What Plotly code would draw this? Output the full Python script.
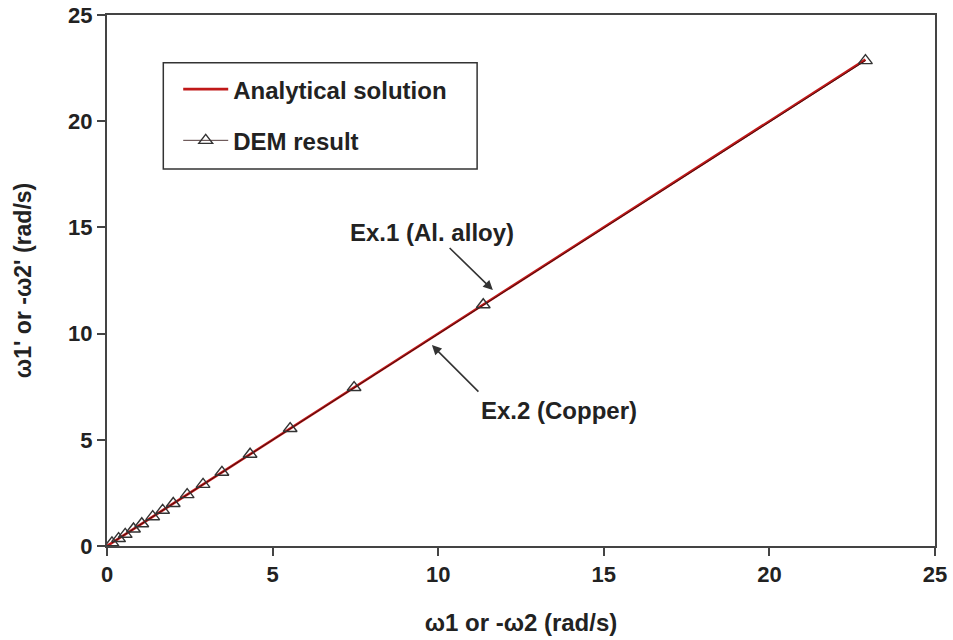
import plotly.graph_objects as go

# Data
analytical_x = [0.0, 22.9]
analytical_y = [0.0, 22.9]
dem_x = [0.15, 0.35, 0.55, 0.8, 1.05, 1.38, 1.68, 2.0, 2.42, 2.9, 3.47, 4.32, 5.53, 7.46, 11.36, 22.9]
dem_y = [0.15, 0.35, 0.55, 0.8, 1.05, 1.38, 1.68, 2.0, 2.42, 2.9, 3.47, 4.32, 5.53, 7.46, 11.36, 22.85]
tick_vals = [0, 5, 10, 15, 20, 25]

FONT = "Arial, 'Liberation Sans', sans-serif"
AXC = "#444444"

fig = go.Figure()
fig.add_trace(go.Scatter(
    x=analytical_x, y=analytical_y, mode="lines", name="<b>Analytical solution</b>",
    line=dict(color="#c01818", width=2.6), legendgroup="a"))
fig.add_trace(go.Scatter(
    x=dem_x, y=dem_y, mode="lines+markers", name="<b>DEM result</b>",
    line=dict(color="rgba(40,10,10,0.8)", width=1.0),
    marker=dict(symbol="triangle-up-open", size=12, color="#333333", line=dict(width=1.4)),
    legendgroup="b"))

# Annotations: arrows
fig.add_annotation(x=11.65, y=12.05, ax=10.3, ay=14.1, xref="x", yref="y", axref="x", ayref="y",
                   text="", showarrow=True, arrowhead=2, arrowsize=1.2, arrowwidth=1.6, arrowcolor="#333333")
fig.add_annotation(x=9.81, y=9.46, ax=11.26, ay=7.2, xref="x", yref="y", axref="x", ayref="y",
                   text="", showarrow=True, arrowhead=2, arrowsize=1.2, arrowwidth=1.6, arrowcolor="#333333")
fig.add_annotation(x=9.81, y=14.78, xref="x", yref="y", text="<b>Ex.1 (Al. alloy)</b>", showarrow=False,
                   font=dict(family=FONT, size=24, color="#222222"), xanchor="center", yanchor="middle")
fig.add_annotation(x=13.65, y=6.4, xref="x", yref="y", text="<b>Ex.2 (Copper)</b>", showarrow=False,
                   font=dict(family=FONT, size=24, color="#222222"), xanchor="center", yanchor="middle")

# Legend box
fig.add_shape(type="rect", xref="paper", yref="paper", x0=0.068, x1=0.447, y0=0.71, y1=0.91,
              line=dict(color="#333333", width=1.5), fillcolor="rgba(0,0,0,0)")

fig.update_layout(
    width=953, height=640,
    margin=dict(l=107, r=18, t=15, b=94, autoexpand=False),
    paper_bgcolor="white", plot_bgcolor="white",
    font=dict(family=FONT, size=21, color="#222222"),
    showlegend=True,
    legend=dict(x=0.086, y=0.902, xanchor="left", yanchor="top", bgcolor="rgba(0,0,0,0)",
                borderwidth=0, font=dict(family=FONT, size=24, color="#222222"),
                traceorder="grouped", tracegroupgap=17, itemwidth=45),
    xaxis=dict(range=[0, 25], tickvals=tick_vals, ticktext=[f"<b>{v}</b>" for v in tick_vals],
               showgrid=False, zeroline=False, showline=True, linecolor=AXC, linewidth=2,
               mirror=True, ticks="outside", ticklen=8, tickwidth=1.5, tickcolor=AXC,
               tickfont=dict(size=22), automargin=False,
               title=dict(text="<b>ω1 or -ω2 (rad/s)</b>", font=dict(size=24), standoff=28)),
    yaxis=dict(range=[0, 25], tickvals=tick_vals, ticktext=[f"<b>{v}</b>" for v in tick_vals],
               showgrid=False, zeroline=False, showline=True, linecolor=AXC, linewidth=2,
               mirror=True, ticks="outside", ticklen=8, tickwidth=1.5, tickcolor=AXC,
               tickfont=dict(size=22), automargin=False,
               title=dict(text="<b>ω1' or -ω2' (rad/s)</b>", font=dict(size=23), standoff=30)),
)

fig.write_html("out.html")
